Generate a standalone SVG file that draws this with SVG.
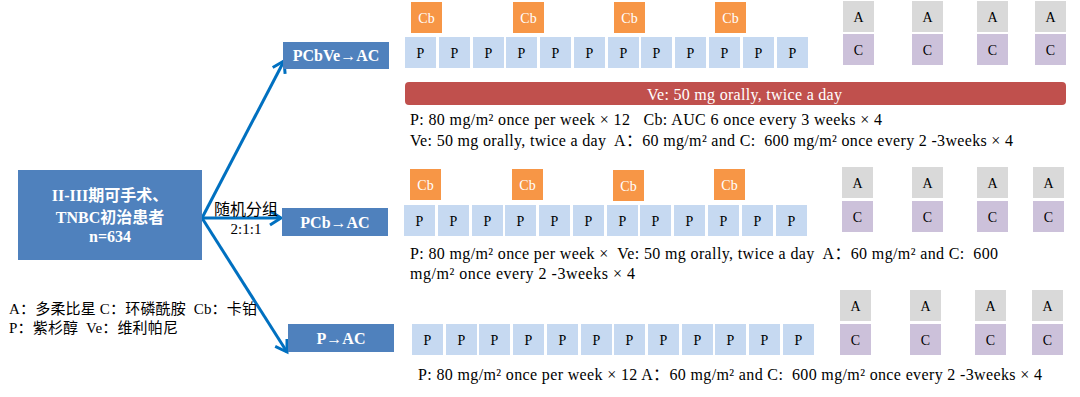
<svg xmlns="http://www.w3.org/2000/svg" width="1080" height="397" viewBox="0 0 1080 397">
<style>
text{white-space:pre}
.serif{font-family:"Liberation Serif","Noto Sans CJK SC",serif}
.main{fill:#4F81BD}
.arm{fill:#4F81BD}
.wb{fill:#fff;font-weight:bold;font-family:"Liberation Serif","Noto Sans CJK SC",serif;text-anchor:middle}
.p{fill:#C6D9F1}
.cb{fill:#F79646}
.a{fill:#D9D9D9}
.c{fill:#CCC1DA}
.bt{font-family:"Liberation Serif",serif;font-size:14px;text-anchor:middle;fill:#000}
.wt{font-family:"Liberation Serif",serif;font-size:14px;text-anchor:middle;fill:#fff}
.desc{font-family:"Liberation Serif","Noto Sans CJK SC",serif;font-size:16px;fill:#000}
.conn{stroke:#0070C0;stroke-width:3;fill:none}
</style>
<defs>
<marker id="ah" markerUnits="userSpaceOnUse" markerWidth="20" markerHeight="20" refX="14" refY="10" orient="auto">
<path d="M3,3 L14,10 L3,17" fill="none" stroke="#0070C0" stroke-width="3"/>
</marker>
<g id="pb"><rect width="31" height="31" class="p"/><text x="15.5" y="20.5" class="bt">P</text></g>
<g id="cbb"><rect width="31" height="31" class="cb"/><text x="15.5" y="20.5" class="wt">Cb</text></g>
<g id="ab"><rect width="31" height="31" class="a"/><text x="15.5" y="20.5" class="bt">A</text></g>
<g id="cb2"><rect width="31" height="31" class="c"/><text x="15.5" y="20.5" class="bt">C</text></g>
</defs>

<g id="connectors">
<line x1="202" y1="218" x2="284" y2="61" class="conn" marker-end="url(#ah)"/>
<line x1="202" y1="218" x2="281" y2="218" class="conn" marker-end="url(#ah)"/>
<line x1="202" y1="218" x2="287" y2="352" class="conn" marker-end="url(#ah)"/>
</g>

<g id="node-main">
<rect x="18" y="170" width="184" height="90" class="main"/>
<text x="110" y="201" class="wb" font-size="16">II-III期可手术、</text>
<text x="110" y="223" class="wb" font-size="16">TNBC初治患者</text>
<text x="110" y="242" class="wb" font-size="16">n=634</text>
</g>

<g id="label-random">
<text x="246" y="215" class="serif" font-size="16" text-anchor="middle">随机分组</text>
<text x="246" y="234" class="serif" font-size="15" text-anchor="middle">2:1:1</text>
</g>

<g id="legend">
<text x="9" y="314" class="serif" font-size="15" textLength="248" lengthAdjust="spacing">A：多柔比星 C：环磷酰胺  Cb：卡铂</text>
<text x="9" y="333" class="serif" font-size="15" textLength="169" lengthAdjust="spacing">P：紫杉醇  Ve：维利帕尼</text>
</g>

<g id="node-arm1">
<rect x="283" y="42" width="106" height="27" class="arm"/>
<text x="336" y="61" class="wb" font-size="16">PCbVe→AC</text>
</g>
<g id="node-arm2">
<rect x="282" y="208" width="106" height="28" class="arm"/>
<text x="335" y="228" class="wb" font-size="16">PCb→AC</text>
</g>
<g id="node-arm3">
<rect x="288" y="324" width="106" height="28" class="arm"/>
<text x="341" y="344" class="wb" font-size="16">P→AC</text>
</g>

<g id="row1">
<use href="#cbb" x="411" y="2"/><use href="#cbb" x="513" y="2"/><use href="#cbb" x="614" y="2"/><use href="#cbb" x="715" y="2"/>
<use href="#pb" x="405" y="37"/><use href="#pb" x="439" y="37"/><use href="#pb" x="473" y="37"/><use href="#pb" x="506" y="37"/>
<use href="#pb" x="540" y="37"/><use href="#pb" x="574" y="37"/><use href="#pb" x="608" y="37"/><use href="#pb" x="641" y="37"/>
<use href="#pb" x="675" y="37"/><use href="#pb" x="709" y="37"/><use href="#pb" x="743" y="37"/><use href="#pb" x="777" y="37"/>
<use href="#ab" x="843" y="1"/><use href="#ab" x="912" y="1"/><use href="#ab" x="977" y="1"/><use href="#ab" x="1035" y="1"/>
<use href="#cb2" x="843" y="34"/><use href="#cb2" x="912" y="34"/><use href="#cb2" x="977" y="34"/><use href="#cb2" x="1035" y="34"/>
<rect x="405" y="82" width="661" height="23" rx="4" fill="#C0504D"/>
<text x="647" y="100" font-family="Liberation Serif,serif" font-size="16" fill="#fff" textLength="195" lengthAdjust="spacing">Ve: 50 mg orally, twice a day</text>
<text x="410" y="125" class="desc" textLength="472" lengthAdjust="spacing">P: 80 mg/m² once per week × 12   Cb: AUC 6 once every 3 weeks × 4</text>
<text x="410" y="146" class="desc" textLength="603" lengthAdjust="spacing">Ve: 50 mg orally, twice a day  A：60 mg/m² and C:  600 mg/m² once every 2 -3weeks × 4</text>
</g>

<g id="row2">
<use href="#cbb" x="410" y="169"/><use href="#cbb" x="512" y="169"/><use href="#cbb" x="613" y="170"/><use href="#cbb" x="714" y="169"/>
<use href="#pb" x="404" y="205"/><use href="#pb" x="438" y="205"/><use href="#pb" x="472" y="205"/><use href="#pb" x="505" y="205"/>
<use href="#pb" x="539" y="205"/><use href="#pb" x="573" y="205"/><use href="#pb" x="607" y="205"/><use href="#pb" x="640" y="205"/>
<use href="#pb" x="674" y="205"/><use href="#pb" x="708" y="205"/><use href="#pb" x="742" y="205"/><use href="#pb" x="776" y="205"/>
<use href="#ab" x="842" y="167"/><use href="#ab" x="912" y="167"/><use href="#ab" x="977" y="167"/><use href="#ab" x="1033" y="167"/>
<use href="#cb2" x="842" y="201"/><use href="#cb2" x="912" y="201"/><use href="#cb2" x="977" y="201"/><use href="#cb2" x="1033" y="201"/>
<text x="410" y="259" class="desc" textLength="588" lengthAdjust="spacing">P: 80 mg/m² once per week ×  Ve: 50 mg orally, twice a day  A：60 mg/m² and C:  600</text>
<text x="410" y="279" class="desc" textLength="225" lengthAdjust="spacing">mg/m² once every 2 -3weeks × 4</text>
</g>

<g id="row3">
<use href="#pb" x="412" y="324"/><use href="#pb" x="446" y="324"/><use href="#pb" x="479" y="324"/><use href="#pb" x="513" y="324"/>
<use href="#pb" x="547" y="324"/><use href="#pb" x="581" y="324"/><use href="#pb" x="614" y="324"/><use href="#pb" x="648" y="324"/>
<use href="#pb" x="682" y="324"/><use href="#pb" x="715" y="324"/><use href="#pb" x="749" y="324"/><use href="#pb" x="783" y="324"/>
<use href="#ab" x="840" y="290"/><use href="#ab" x="910" y="290"/><use href="#ab" x="975" y="290"/><use href="#ab" x="1032" y="290"/>
<use href="#cb2" x="840" y="324"/><use href="#cb2" x="910" y="324"/><use href="#cb2" x="975" y="324"/><use href="#cb2" x="1032" y="324"/>
<text x="418" y="380" class="desc" textLength="624" lengthAdjust="spacing">P: 80 mg/m² once per week × 12 A：60 mg/m² and C:  600 mg/m² once every 2 -3weeks × 4</text>
</g>
</svg>
